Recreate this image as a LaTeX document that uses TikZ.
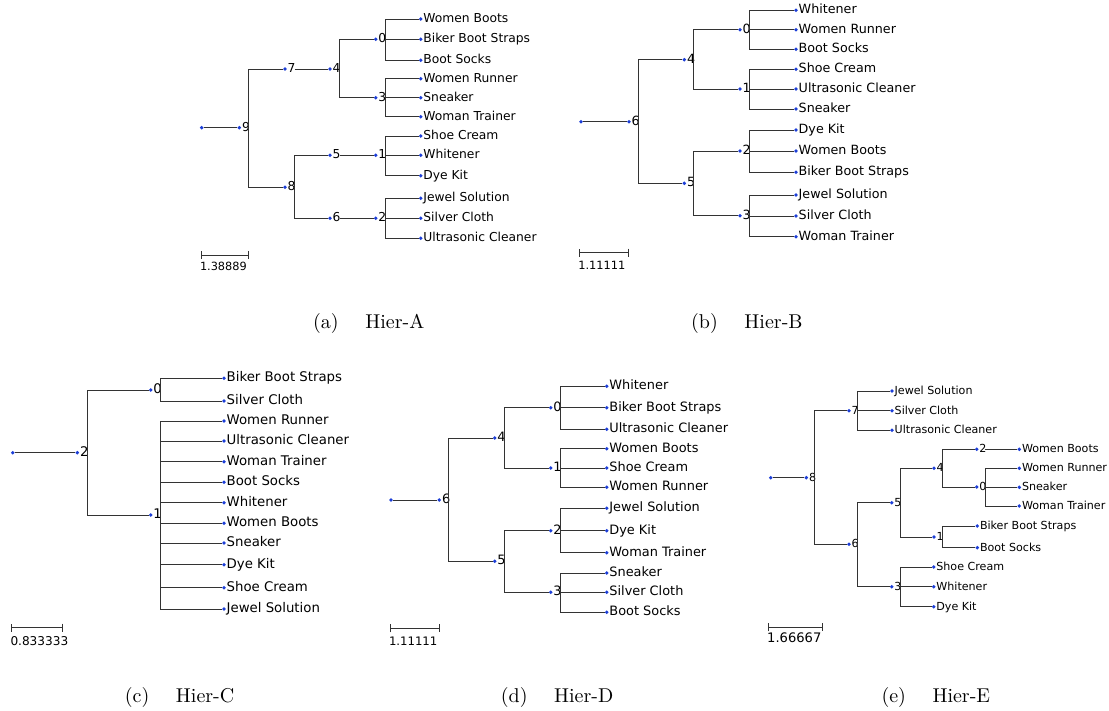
\documentclass[tikz,border=0pt]{standalone}
\usepackage{fontspec}
\usepackage{tikz}
\usetikzlibrary{arrows.meta}

\newfontfamily\treefont{DejaVu Sans}
\newfontfamily\capfont[Extension=.otf]{lmroman10-regular}
\definecolor{dotblue}{RGB}{28,62,215}

\begin{document}
\begin{tikzpicture}[
    x=1pt, y=-1pt,
    tree node/.style={circle, fill=dotblue, inner sep=0pt, minimum size=3.8pt},
    edge/.style={draw=black!80, line width=0.9pt},
    scale bar/.style={edge, {Bar[width=8pt]}-{Bar[width=8pt]}},
    panel/.style={every label/.style={inner sep=0.4pt, text height=0.73em, text depth=0pt,
        font=\treefont\fontsize{#1}{#1}\selectfont}},
    scale text/.style={anchor=west, inner sep=0pt, font=\treefont\fontsize{#1}{#1}\selectfont},
    caption/.style={anchor=base west, inner sep=0pt, font=\capfont\fontsize{20}{24}\selectfont},
    ]
  \useasboundingbox (0,0) rectangle (1109,711);

  % (a) Hier-A
  \begin{scope}[panel=12.3]
    \def\stub{9.6}
    \node[tree node] (a-r) at (201.7,127.7) {};
    \node[tree node, label=right:9] (a-9) at (239.3,127.7) {};
    \node[tree node, label=right:7] (a-7) at (285,69) {};
    \node[tree node, label=right:8] (a-8) at (285,187.3) {};
    \node[tree node, label=right:4] (a-4) at (330,69) {};
    \node[tree node, label=right:5] (a-5) at (330,155.3) {};
    \node[tree node, label=right:6] (a-6) at (330,218.3) {};
    \node[tree node, label=right:0] (a-0) at (375.7,39.3) {};
    \node[tree node, label=right:3] (a-3) at (375.7,97.7) {};
    \node[tree node, label=right:1] (a-1) at (375.7,155.3) {};
    \node[tree node, label=right:2] (a-2) at (375.7,218.3) {};
    \node[tree node, label=right:Women Boots] (a-wb) at (420.7,19) {};
    \node[tree node, label=right:Biker Boot Straps] (a-bbs) at (420.7,39.3) {};
    \node[tree node, label=right:Boot Socks] (a-bs) at (420.7,60.3) {};
    \node[tree node, label=right:Women Runner] (a-wr) at (420.7,78.7) {};
    \node[tree node, label=right:Sneaker] (a-sn) at (420.7,97.7) {};
    \node[tree node, label=right:Woman Trainer] (a-wt) at (420.7,116.7) {};
    \node[tree node, label=right:Shoe Cream] (a-sc) at (420.7,136) {};
    \node[tree node, label=right:Whitener] (a-wh) at (420.7,155.3) {};
    \node[tree node, label=right:Dye Kit] (a-dk) at (420.7,175.7) {};
    \node[tree node, label=right:Jewel Solution] (a-js) at (420.7,198.3) {};
    \node[tree node, label=right:Silver Cloth] (a-slc) at (420.7,218.3) {};
    \node[tree node, label=right:Ultrasonic Cleaner] (a-uc) at (420.7,238.3) {};

    \draw[edge] (a-r) -- (a-9);
    \draw[edge] (a-9) ++(\stub,0) |- (a-7) (a-9) ++(\stub,0) |- (a-8);
    \draw[edge] (a-7) ++(\stub,0) -- (a-4);
    \draw[edge] (a-4) ++(\stub,0) |- (a-0) (a-4) ++(\stub,0) |- (a-3);
    \draw[edge] (a-0) ++(\stub,0) |- (a-wb) (a-0) ++(\stub,0) |- (a-bbs) (a-0) ++(\stub,0) |- (a-bs);
    \draw[edge] (a-3) ++(\stub,0) |- (a-wr) (a-3) ++(\stub,0) |- (a-sn) (a-3) ++(\stub,0) |- (a-wt);
    \draw[edge] (a-8) ++(\stub,0) |- (a-5) (a-8) ++(\stub,0) |- (a-6);
    \draw[edge] (a-5) ++(\stub,0) -- (a-1);
    \draw[edge] (a-6) ++(\stub,0) -- (a-2);
    \draw[edge] (a-1) ++(\stub,0) |- (a-sc) (a-1) ++(\stub,0) |- (a-wh) (a-1) ++(\stub,0) |- (a-dk);
    \draw[edge] (a-2) ++(\stub,0) |- (a-js) (a-2) ++(\stub,0) |- (a-slc) (a-2) ++(\stub,0) |- (a-uc);

    \coordinate (a-s0) at (201,255);
    \coordinate (a-s1) at (249,255);
    \draw[scale bar] (a-s0) -- (a-s1);
    \node[scale text=11.3] (a-sl) at (199.8,266.7) {1.38889};
  \end{scope}

  % (b) Hier-B
  \begin{scope}[panel=12.7]
    \def\stub{9.6}
    \node[tree node] (b-r) at (581,121.7) {};
    \node[tree node, label=right:6] (b-6) at (629,121.7) {};
    \node[tree node, label=right:4] (b-4) at (684.3,59.7) {};
    \node[tree node, label=right:5] (b-5) at (684.3,183.3) {};
    \node[tree node, label=right:0] (b-0) at (740,29.7) {};
    \node[tree node, label=right:1] (b-1) at (740,89) {};
    \node[tree node, label=right:2] (b-2) at (740,151) {};
    \node[tree node, label=right:3] (b-3) at (740,215.7) {};
    \node[tree node, label=right:Whitener] (b-wh) at (796,10.3) {};
    \node[tree node, label=right:Women Runner] (b-wr) at (796,29.7) {};
    \node[tree node, label=right:Boot Socks] (b-bs) at (796,49.3) {};
    \node[tree node, label=right:Shoe Cream] (b-sc) at (796,69.3) {};
    \node[tree node, label=right:Ultrasonic Cleaner] (b-uc) at (796,89) {};
    \node[tree node, label=right:Sneaker] (b-sn) at (796,109) {};
    \node[tree node, label=right:Dye Kit] (b-dk) at (796,130) {};
    \node[tree node, label=right:Women Boots] (b-wb) at (796,151) {};
    \node[tree node, label=right:Biker Boot Straps] (b-bbs) at (796,172.3) {};
    \node[tree node, label=right:Jewel Solution] (b-js) at (796,195) {};
    \node[tree node, label=right:Silver Cloth] (b-slc) at (796,216) {};
    \node[tree node, label=right:Woman Trainer] (b-wt) at (796,236.7) {};

    \draw[edge] (b-r) -- (b-6);
    \draw[edge] (b-6) ++(\stub,0) |- (b-4) (b-6) ++(\stub,0) |- (b-5);
    \draw[edge] (b-4) ++(\stub,0) |- (b-0) (b-4) ++(\stub,0) |- (b-1);
    \draw[edge] (b-5) ++(\stub,0) |- (b-2) (b-5) ++(\stub,0) |- (b-3);
    \draw[edge] (b-0) ++(\stub,0) |- (b-wh) (b-0) ++(\stub,0) |- (b-wr) (b-0) ++(\stub,0) |- (b-bs);
    \draw[edge] (b-1) ++(\stub,0) |- (b-sc) (b-1) ++(\stub,0) |- (b-uc) (b-1) ++(\stub,0) |- (b-sn);
    \draw[edge] (b-2) ++(\stub,0) |- (b-dk) (b-2) ++(\stub,0) |- (b-wb) (b-2) ++(\stub,0) |- (b-bbs);
    \draw[edge] (b-3) ++(\stub,0) |- (b-js) (b-3) ++(\stub,0) |- (b-slc) (b-3) ++(\stub,0) |- (b-wt);

    \coordinate (b-s0) at (579.3,252.7);
    \coordinate (b-s1) at (629,252.7);
    \draw[scale bar] (b-s0) -- (b-s1);
    \node[scale text=11.4] (b-sl) at (578.1,265.7) {1.11111};
  \end{scope}

  % (c) Hier-C
  \begin{scope}[panel=13.3]
    \def\stub{10.2}
    \node[tree node] (c-r) at (12.7,452.7) {};
    \node[tree node, label=right:2] (c-2) at (77.3,452.7) {};
    \node[tree node, label=right:0] (c-0) at (150.7,390) {};
    \node[tree node, label=right:1] (c-1) at (150.7,515) {};
    \node[tree node, label=right:Biker Boot Straps] (c-bbs) at (224,378.3) {};
    \node[tree node, label=right:Silver Cloth] (c-slc) at (224,401) {};
    \node[tree node, label=right:Women Runner] (c-wr) at (224,421) {};
    \node[tree node, label=right:Ultrasonic Cleaner] (c-uc) at (224,441) {};
    \node[tree node, label=right:Woman Trainer] (c-wt) at (224,461.7) {};
    \node[tree node, label=right:Boot Socks] (c-bs) at (224,482.3) {};
    \node[tree node, label=right:Whitener] (c-wh) at (224,502.7) {};
    \node[tree node, label=right:Women Boots] (c-wb) at (224,523.3) {};
    \node[tree node, label=right:Sneaker] (c-sn) at (224,543) {};
    \node[tree node, label=right:Dye Kit] (c-dk) at (224,564.7) {};
    \node[tree node, label=right:Shoe Cream] (c-sc) at (224,587.7) {};
    \node[tree node, label=right:Jewel Solution] (c-js) at (224,609) {};

    \draw[edge] (c-r) -- (c-2);
    \draw[edge] (c-2) ++(\stub,0) |- (c-0) (c-2) ++(\stub,0) |- (c-1);
    \draw[edge] (c-0) ++(\stub,0) |- (c-bbs) (c-0) ++(\stub,0) |- (c-slc);
    \draw[edge] (c-1) ++(\stub,0) |- (c-wr) (c-1) ++(\stub,0) |- (c-uc) (c-1) ++(\stub,0) |- (c-wt)
                (c-1) ++(\stub,0) |- (c-bs) (c-1) ++(\stub,0) |- (c-wh) (c-1) ++(\stub,0) |- (c-wb)
                (c-1) ++(\stub,0) |- (c-sn) (c-1) ++(\stub,0) |- (c-dk) (c-1) ++(\stub,0) |- (c-sc)
                (c-1) ++(\stub,0) |- (c-js);

    \coordinate (c-s0) at (11,627.7);
    \coordinate (c-s1) at (62.7,627.7);
    \draw[scale bar] (c-s0) -- (c-s1);
    \node[scale text=12.1] (c-sl) at (10.3,640.7) {0.833333};
  \end{scope}

  % (d) Hier-D
  \begin{scope}[panel=12.9]
    \def\stub{9.6}
    \node[tree node] (d-r) at (391,500) {};
    \node[tree node, label=right:6] (d-6) at (439.3,500) {};
    \node[tree node, label=right:4] (d-4) at (494.7,438) {};
    \node[tree node, label=right:5] (d-5) at (494.7,561.3) {};
    \node[tree node, label=right:0] (d-0) at (550.7,407.7) {};
    \node[tree node, label=right:1] (d-1) at (550.7,468) {};
    \node[tree node, label=right:2] (d-2) at (550.7,530.7) {};
    \node[tree node, label=right:3] (d-3) at (550.7,592.3) {};
    \node[tree node, label=right:Whitener] (d-wh) at (606.7,386.3) {};
    \node[tree node, label=right:Biker Boot Straps] (d-bbs) at (606.7,407.7) {};
    \node[tree node, label=right:Ultrasonic Cleaner] (d-uc) at (606.7,429.3) {};
    \node[tree node, label=right:Women Boots] (d-wb) at (606.7,448.7) {};
    \node[tree node, label=right:Shoe Cream] (d-sc) at (606.7,468) {};
    \node[tree node, label=right:Women Runner] (d-wr) at (606.7,487.3) {};
    \node[tree node, label=right:Jewel Solution] (d-js) at (606.7,508.3) {};
    \node[tree node, label=right:Dye Kit] (d-dk) at (606.7,530.7) {};
    \node[tree node, label=right:Woman Trainer] (d-wt) at (606.7,552.7) {};
    \node[tree node, label=right:Sneaker] (d-sn) at (606.7,573) {};
    \node[tree node, label=right:Silver Cloth] (d-slc) at (606.7,592.3) {};
    \node[tree node, label=right:Boot Socks] (d-bs) at (606.7,612.3) {};

    \draw[edge] (d-r) -- (d-6);
    \draw[edge] (d-6) ++(\stub,0) |- (d-4) (d-6) ++(\stub,0) |- (d-5);
    \draw[edge] (d-4) ++(\stub,0) |- (d-0) (d-4) ++(\stub,0) |- (d-1);
    \draw[edge] (d-5) ++(\stub,0) |- (d-2) (d-5) ++(\stub,0) |- (d-3);
    \draw[edge] (d-0) ++(\stub,0) |- (d-wh) (d-0) ++(\stub,0) |- (d-bbs) (d-0) ++(\stub,0) |- (d-uc);
    \draw[edge] (d-1) ++(\stub,0) |- (d-wb) (d-1) ++(\stub,0) |- (d-sc) (d-1) ++(\stub,0) |- (d-wr);
    \draw[edge] (d-2) ++(\stub,0) |- (d-js) (d-2) ++(\stub,0) |- (d-dk) (d-2) ++(\stub,0) |- (d-wt);
    \draw[edge] (d-3) ++(\stub,0) |- (d-sn) (d-3) ++(\stub,0) |- (d-slc) (d-3) ++(\stub,0) |- (d-bs);

    \coordinate (d-s0) at (390,628.3);
    \coordinate (d-s1) at (440,628.3);
    \draw[scale bar] (d-s0) -- (d-s1);
    \node[scale text=11.7] (d-sl) at (388.8,641.7) {1.11111};
  \end{scope}

  % (e) Hier-E
  \begin{scope}[panel=11.1]
    \def\stub{8.6}
    \node[tree node] (e-r) at (770.7,477.7) {};
    \node[tree node, label=right:8] (e-8) at (806.3,477.7) {};
    \node[tree node, label=right:7] (e-7) at (849,410.7) {};
    \node[tree node, label=right:6] (e-6) at (849,544.3) {};
    \node[tree node, label=right:5] (e-5) at (891.7,502.7) {};
    \node[tree node, label=right:3] (e-3) at (891.7,586.7) {};
    \node[tree node, label=right:4] (e-4) at (934,468.3) {};
    \node[tree node, label=right:1] (e-1) at (934,537) {};
    \node[tree node, label=right:2] (e-2) at (976.7,449.3) {};
    \node[tree node, label=right:0] (e-0) at (976.7,487) {};
    \node[tree node, label=right:Jewel Solution] (e-js) at (892,391) {};
    \node[tree node, label=right:Silver Cloth] (e-slc) at (892,410.7) {};
    \node[tree node, label=right:Ultrasonic Cleaner] (e-uc) at (892,430.3) {};
    \node[tree node, label=right:Women Boots] (e-wb) at (1019.3,449.3) {};
    \node[tree node, label=right:Women Runner] (e-wr) at (1019.3,468.3) {};
    \node[tree node, label=right:Sneaker] (e-sn) at (1019.3,487.3) {};
    \node[tree node, label=right:Woman Trainer] (e-wt) at (1019.3,506) {};
    \node[tree node, label=right:Biker Boot Straps] (e-bbs) at (977.3,526) {};
    \node[tree node, label=right:Boot Socks] (e-bs) at (977.3,547.7) {};
    \node[tree node, label=right:Shoe Cream] (e-sc) at (933.7,567) {};
    \node[tree node, label=right:Whitener] (e-wh) at (933.7,586.7) {};
    \node[tree node, label=right:Dye Kit] (e-dk) at (933.7,606.7) {};

    \draw[edge] (e-r) -- (e-8);
    \draw[edge] (e-8) ++(\stub,0) |- (e-7) (e-8) ++(\stub,0) |- (e-6);
    \draw[edge] (e-7) ++(\stub,0) |- (e-js) (e-7) ++(\stub,0) |- (e-slc) (e-7) ++(\stub,0) |- (e-uc);
    \draw[edge] (e-6) ++(\stub,0) |- (e-5) (e-6) ++(\stub,0) |- (e-3);
    \draw[edge] (e-5) ++(\stub,0) |- (e-4) (e-5) ++(\stub,0) |- (e-1);
    \draw[edge] (e-4) ++(\stub,0) |- (e-2) (e-4) ++(\stub,0) |- (e-0);
    \draw[edge] (e-2) ++(\stub,0) -- (e-wb);
    \draw[edge] (e-0) ++(\stub,0) |- (e-wr) (e-0) ++(\stub,0) |- (e-sn) (e-0) ++(\stub,0) |- (e-wt);
    \draw[edge] (e-1) ++(\stub,0) |- (e-bbs) (e-1) ++(\stub,0) |- (e-bs);
    \draw[edge] (e-3) ++(\stub,0) |- (e-sc) (e-3) ++(\stub,0) |- (e-wh) (e-3) ++(\stub,0) |- (e-dk);

    \coordinate (e-s0) at (768.3,627.3);
    \coordinate (e-s1) at (823.3,627.3);
    \draw[scale bar] (e-s0) -- (e-s1);
    \node[scale text=13.1] (e-sl) at (767,637.3) {1.66667};
  \end{scope}

  % captions
  \node[caption] (a-cap) at (313,328.3) {(a)\hspace{1.33em}Hier-A};
  \node[caption] (b-cap) at (691,328.3) {(b)\hspace{1.33em}Hier-B};
  \node[caption] (c-cap) at (124.7,702.7) {(c)\hspace{1.33em}Hier-C};
  \node[caption] (d-cap) at (500.7,702.7) {(d)\hspace{1.33em}Hier-D};
  \node[caption] (e-cap) at (881.3,702.7) {(e)\hspace{1.33em}Hier-E};
\end{tikzpicture}
\end{document}
